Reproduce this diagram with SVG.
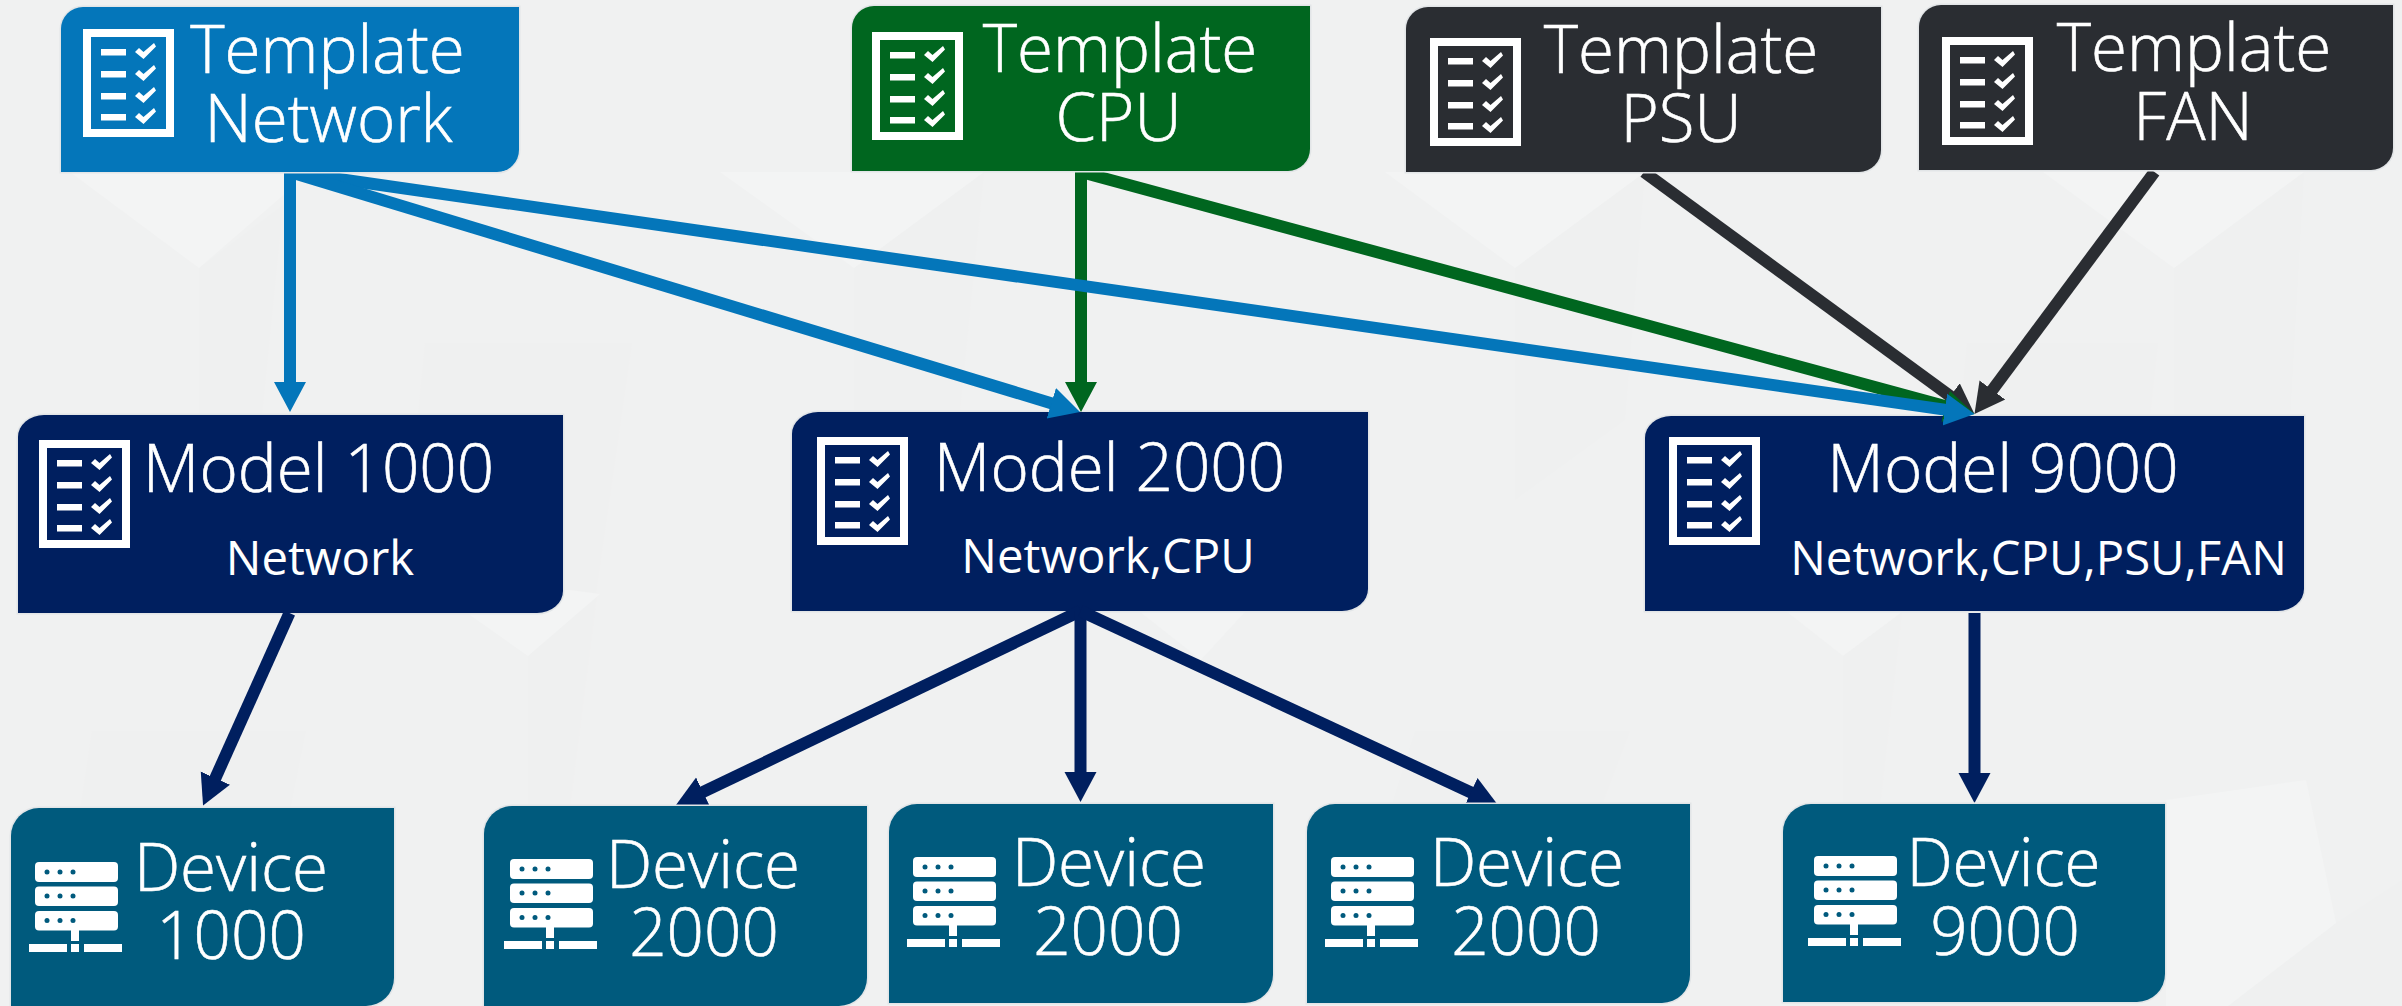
<svg xmlns="http://www.w3.org/2000/svg" width="2402" height="1006" viewBox="0 0 2402 1006">
<style>
.t{font-family:"Open Sans","Noto Sans","DejaVu Sans",sans-serif;font-weight:300;fill:#fff;stroke:#fff;stroke-width:.6;text-anchor:middle;font-size:65.5px}
.s{font-size:47.3px;font-weight:400;stroke:none}
.b{stroke:#e2e5e7;stroke-width:3;paint-order:stroke}
.c{fill:none;stroke-width:12}
.l{fill:#f3f4f4}
.d{fill:#eff0f0}
</style>
<defs>
<marker id="mB" markerUnits="userSpaceOnUse" markerWidth="32" markerHeight="34" refX="5" refY="17" orient="auto"><path d="M0,1L30,17L0,33Z" fill="#0476ba"/></marker>
<marker id="mG" markerUnits="userSpaceOnUse" markerWidth="32" markerHeight="34" refX="5" refY="17" orient="auto"><path d="M0,1L30,17L0,33Z" fill="#00661f"/></marker>
<marker id="mD" markerUnits="userSpaceOnUse" markerWidth="32" markerHeight="34" refX="5" refY="17" orient="auto"><path d="M0,1L30,17L0,33Z" fill="#2a2d32"/></marker>
<marker id="mN" markerUnits="userSpaceOnUse" markerWidth="32" markerHeight="34" refX="5" refY="17" orient="auto"><path d="M0,1L30,17L0,33Z" fill="#001f5f"/></marker>
<path id="tk" fill="#fff" d="M52,23l4,-4l4.500,4l10.500,-9l2,3.500l-12.500,12.500z"/>
<g id="chk">
<path fill="#fff" fill-rule="evenodd" d="M0,0H91V108H0ZM8,8V100H83V8Z"/>
<path fill="#fff" d="M18,20h25v6.500h-25zM18,42h25v6.500h-25zM18,64h25v6.500h-25zM18,85h25v6.500h-25z"/>
<use href="#tk"/><use href="#tk" y="22"/><use href="#tk" y="44"/><use href="#tk" y="65"/>
</g>
<g id="srv">
<rect x="6" y="0" width="83" height="20" rx="4" fill="#fff"/>
<rect x="6" y="24.500" width="83" height="19.500" rx="4" fill="#fff"/>
<rect x="6" y="49" width="83" height="19.500" rx="4" fill="#fff"/>
<g fill="#005a7d"><circle cx="18" cy="10" r="2.500"/><circle cx="31" cy="10" r="2.500"/><circle cx="44" cy="10" r="2.500"/><circle cx="18" cy="34" r="2.500"/><circle cx="31" cy="34" r="2.500"/><circle cx="44" cy="34" r="2.500"/><circle cx="18" cy="58.500" r="2.500"/><circle cx="31" cy="58.500" r="2.500"/><circle cx="44" cy="58.500" r="2.500"/></g>
<path fill="#fff" d="M42,68h8v11h-8zM0,82h38v8H0zM42,82h8v8h-8zM55,82h38v8H55z"/>
</g>
</defs>
<g id="background">
<rect width="2402" height="1006" fill="#f0f1f1"/>
<polygon class="d" points="199,268 283,205 262,415 199,415"/>
<polygon class="d" points="854,268 984,172 960,410 854,410"/>
<polygon class="d" points="1515,268 1645,172 1625,420 1515,500"/>
<polygon class="d" points="2174,268 2304,172 2290,420 2174,420"/>
<polygon class="d" points="1843,656 1902,612 1880,806 1843,806"/>
<polygon class="d" points="528,656 597,594 570,806 528,806"/>
<polygon class="d" points="425,343 632,343 595,600 400,600"/>
<polygon class="d" points="92,731 306,731 290,810 80,810"/>
<polygon class="d" points="1415,731 1630,731 1600,810 1390,810"/>
<polygon class="d" points="1967,343 2158,343 2150,416 1960,416"/>
<polygon class="d" points="2336,923 2402,880 2402,1006 2228,1006"/>
<polygon class="l" points="70,172 199,268 310,172"/>
<polygon class="l" points="720,172 854,268 984,172"/>
<polygon class="l" points="1385,172 1515,268 1645,172"/>
<polygon class="l" points="2043,172 2174,268 2304,172"/>
<polygon class="l" points="460,608 528,656 600,594 570,590 460,590"/>
<polygon class="l" points="1787,612 1843,656 1902,612"/>
<polygon class="l" points="1140,612 1201,660 1245,612"/>
<polygon class="l" points="2166,800 2306,780 2336,923 2228,1006 2166,1006"/>
</g>
<g id="model-1000"><path class="b" fill="#001f5f" d="M44,415H563V591A26,22 0 0 1 537,613H18V437A26,22 0 0 1 44,415Z"/><use href="#chk" x="39" y="440"/><text class="t" x="318.500" y="492">Model 1000</text><text class="t s" x="320" y="575">Network</text></g>
<g id="model-2000"><path class="b" fill="#001f5f" d="M818,412H1368V589A26,22 0 0 1 1342,611H792V434A26,22 0 0 1 818,412Z"/><use href="#chk" x="817" y="437"/><text class="t" x="1109.500" y="491">Model 2000</text><text class="t s" x="1108" y="573">Network,CPU</text></g>
<g id="model-9000"><path class="b" fill="#001f5f" d="M1671,416H2304V589A26,22 0 0 1 2278,611H1645V438A26,22 0 0 1 1671,416Z"/><use href="#chk" x="1669" y="437"/><text class="t" x="2003" y="492">Model 9000</text><text class="t s" x="2038.500" y="575">Network,CPU,PSU,FAN</text></g>
<g id="connectors">
<path class="c" stroke="#2a2d32" marker-end="url(#mD)" d="M1644,172L1954.300,399.200"/>
<path class="c" stroke="#2a2d32" marker-end="url(#mD)" d="M2154.500,172L1989.400,394"/>
<path class="c" stroke="#00661f" marker-end="url(#mG)" d="M1081,172L1950.400,407.500"/>
<path class="c" stroke="#00661f" marker-end="url(#mG)" d="M1081,172V387"/>
<path class="c" stroke="#0476ba" marker-end="url(#mB)" d="M290,172L1949.800,410.400"/>
<path class="c" stroke="#0476ba" marker-end="url(#mB)" d="M290,172L1056.100,404.700"/>
<path class="c" stroke="#0476ba" marker-end="url(#mB)" d="M290,172V387"/>
<path class="c" stroke="#001f5f" marker-end="url(#mN)" d="M289.500,613L213.300,782.700"/>
<path class="c" stroke="#001f5f" marker-end="url(#mN)" d="M1080.500,611L698.500,794.200"/>
<path class="c" stroke="#001f5f" marker-end="url(#mN)" d="M1080.500,611V777"/>
<path class="c" stroke="#001f5f" marker-end="url(#mN)" d="M1080.500,611L1475.300,794.500"/>
<path class="c" stroke="#001f5f" marker-end="url(#mN)" d="M1974.500,613V778"/>
</g>
<g id="tpl-network"><path class="b" fill="#0476ba" d="M83,7H519V150A22,22 0 0 1 497,172H61V29A22,22 0 0 1 83,7Z"/><use href="#chk" x="83" y="29"/><text class="t" x="327.500" y="73">Template</text><text class="t" x="328.500" y="142">Network</text></g>
<g id="tpl-cpu"><path class="b" fill="#00661f" d="M874,6H1310V149A22,22 0 0 1 1288,171H852V28A22,22 0 0 1 874,6Z"/><use href="#chk" x="872" y="32"/><text class="t" x="1120" y="72">Template</text><text class="t" x="1118.500" y="141">CPU</text></g>
<g id="tpl-psu"><path class="b" fill="#2a2d32" d="M1428,7H1881V150A22,22 0 0 1 1859,172H1406V29A22,22 0 0 1 1428,7Z"/><use href="#chk" x="1430" y="38"/><text class="t" x="1681" y="73">Template</text><text class="t" x="1681" y="142">PSU</text></g>
<g id="tpl-fan"><path class="b" fill="#2a2d32" d="M1941,5H2393V148A22,22 0 0 1 2371,170H1919V27A22,22 0 0 1 1941,5Z"/><use href="#chk" x="1942" y="37"/><text class="t" x="2194" y="71">Template</text><text class="t" x="2193" y="140">FAN</text></g>
<g id="device-1"><path class="b" fill="#005a7d" d="M39,808H394V978A28,28 0 0 1 366,1006H11V836A28,28 0 0 1 39,808Z"/><use href="#srv" x="29" y="862"/><text class="t" x="231" y="891">Device</text><text class="t" x="231" y="959">1000</text></g>
<g id="device-2"><path class="b" fill="#005a7d" d="M512,806H867V978A28,28 0 0 1 839,1006H484V834A28,28 0 0 1 512,806Z"/><use href="#srv" x="504" y="859"/><text class="t" x="703" y="888">Device</text><text class="t" x="704" y="956">2000</text></g>
<g id="device-3"><path class="b" fill="#005a7d" d="M917,804H1273V975A28,28 0 0 1 1245,1003H889V832A28,28 0 0 1 917,804Z"/><use href="#srv" x="907" y="857"/><text class="t" x="1109" y="886">Device</text><text class="t" x="1108" y="955">2000</text></g>
<g id="device-4"><path class="b" fill="#005a7d" d="M1335,804H1690V975A28,28 0 0 1 1662,1003H1307V832A28,28 0 0 1 1335,804Z"/><use href="#srv" x="1325" y="857"/><text class="t" x="1527" y="886">Device</text><text class="t" x="1526" y="955">2000</text></g>
<g id="device-5"><path class="b" fill="#005a7d" d="M1811,804H2165V974A28,28 0 0 1 2137,1002H1783V832A28,28 0 0 1 1811,804Z"/><use href="#srv" x="1808" y="856"/><text class="t" x="2003.500" y="886">Device</text><text class="t" x="2005" y="955">9000</text></g>
</svg>
